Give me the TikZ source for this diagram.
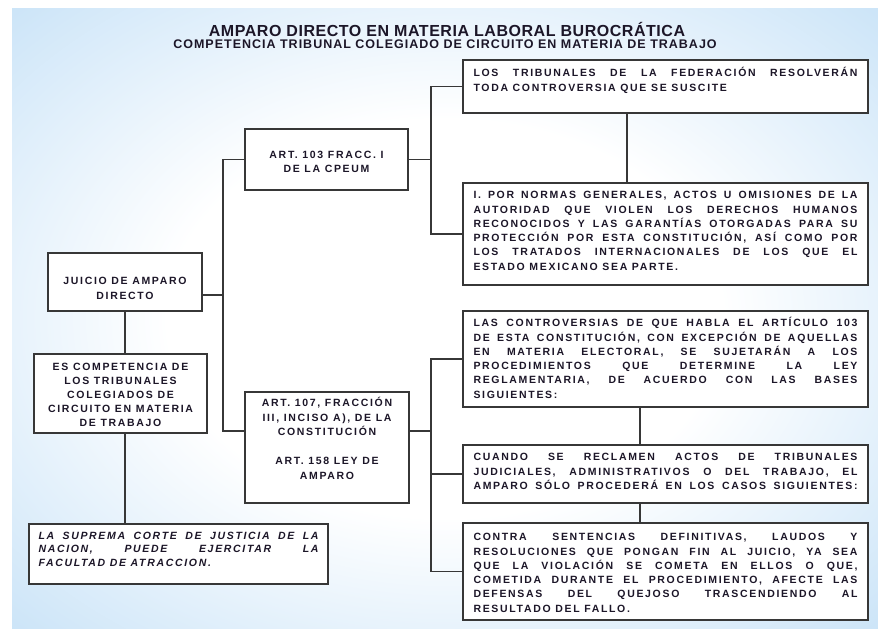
\documentclass[tikz,border=0pt]{standalone}
\usepackage{fontspec}
\setmainfont{Liberation Sans}
\newfontfamily\bxf[LetterSpace=16]{Liberation Sans}
\newfontfamily\ttlf[LetterSpace=3.4]{Liberation Sans}
\newfontfamily\ttlg[LetterSpace=8]{Liberation Sans}
\definecolor{bgblue}{RGB}{176,214,244}
\definecolor{ink}{RGB}{28,22,40}
\definecolor{edge}{RGB}{55,55,55}
\pgfdeclareradialshading{bgshade}{\pgfpoint{0bp}{0bp}}{color(0bp)=(white); color(16bp)=(white); color(46bp)=(bgblue); color(100bp)=(bgblue)}
\newcommand\jl[1]{\hbox to\hsize{\strut #1}}
\newcommand\lastl[1]{\hbox{\strut #1}}
\newcommand\pbx[4]{\parbox[c][#2][t]{#1}{\vspace*{#3}#4}}
\newcommand\bxfont[1]{\bxf\bfseries\fontsize{10.5}{#1}\selectfont\spaceskip=4.6pt plus 40pt minus 1pt\relax}
\begin{document}
\begin{tikzpicture}[x=1pt,y=-1pt,
  box/.style={draw=edge, line width=1.6pt, fill=white, inner xsep=10.5pt, inner ysep=0pt, outer sep=0pt, anchor=north west, text=ink,
    font=\bxfont{14.3}},
  cbox/.style={box, inner sep=0pt},
  conn/.style={draw=edge, line width=1.8pt},
  ttl/.style={text=ink, inner sep=0pt}]
\useasboundingbox (0,0) rectangle (878,629);
\fill[white] (0,0) rectangle (878,629);
\shade[shading=bgshade] (12,8) rectangle (878,629);

% titles
\node[ttl, font=\ttlf\bfseries\fontsize{16}{19}\selectfont] (t1) at (447,29) {AMPARO DIRECTO EN MATERIA LABORAL BUROCRÁTICA};
\node[ttl, font=\ttlg\bfseries\fontsize{12.5}{15}\selectfont] (t2) at (445,44) {COMPETENCIA TRIBUNAL COLEGIADO DE CIRCUITO EN MATERIA DE TRABAJO};

% left column
\node[cbox, font=\bxfont{15}] (juicio) at (48,253) {\pbx{154pt}{58pt}{20.7pt}{\centering\strut JUICIO DE AMPARO\\DIRECTO\par}};
\node[cbox, font=\bxfont{14}] (comp) at (34,354) {\pbx{173pt}{79pt}{6.7pt}{\centering\strut ES COMPETENCIA DE\\LOS TRIBUNALES\\COLEGIADOS DE\\CIRCUITO EN MATERIA\\DE TRABAJO\par}};
\node[box, inner xsep=9.5pt, font=\bxfont{13.5}\itshape] (scjn) at (29,524) {\pbx{280pt}{60pt}{5.7pt}{%
  \jl{LA SUPREMA CORTE DE JUSTICIA DE LA}
  \jl{NACION, PUEDE EJERCITAR LA}
  \lastl{FACULTAD DE ATRACCION.}}};

% middle column
\node[cbox, font=\bxfont{14}] (a103) at (245,129) {\pbx{163pt}{61pt}{19.7pt}{\centering\strut ART. 103 FRACC. I\\DE LA CPEUM\par}};
\node[cbox, font=\bxfont{14.5}] (a107) at (245,392) {\pbx{164pt}{111pt}{4.8pt}{\centering\strut ART. 107, FRACCIÓN\\III, INCISO A), DE LA\\CONSTITUCIÓN\\[14.5pt]ART. 158 LEY DE\\AMPARO\par}};

% right column
\node[box] (b1) at (463,60) {\pbx{384pt}{53pt}{6.7pt}{%
  \jl{LOS TRIBUNALES DE LA FEDERACIÓN RESOLVERÁN}
  \lastl{TODA CONTROVERSIA QUE SE SUSCITE}}};
\node[box] (b2) at (463,183) {\pbx{384pt}{102pt}{5.7pt}{%
  \jl{I. POR NORMAS GENERALES, ACTOS U OMISIONES DE LA}
  \jl{AUTORIDAD QUE VIOLEN LOS DERECHOS HUMANOS}
  \jl{RECONOCIDOS Y LAS GARANTÍAS OTORGADAS PARA SU}
  \jl{PROTECCIÓN POR ESTA CONSTITUCIÓN, ASÍ COMO POR}
  \jl{LOS TRATADOS INTERNACIONALES DE LOS QUE EL}
  \lastl{ESTADO MEXICANO SEA PARTE.}}};
\node[box] (b3) at (463,311) {\pbx{384pt}{96pt}{5.7pt}{%
  \jl{LAS CONTROVERSIAS DE QUE HABLA EL ARTÍCULO 103}
  \jl{DE ESTA CONSTITUCIÓN, CON EXCEPCIÓN DE AQUELLAS}
  \jl{EN MATERIA ELECTORAL, SE SUJETARÁN A LOS}
  \jl{PROCEDIMIENTOS QUE DETERMINE LA LEY}
  \jl{REGLAMENTARIA, DE ACUERDO CON LAS BASES}
  \lastl{SIGUIENTES:}}};
\node[box] (b4) at (463,445) {\pbx{384pt}{58pt}{5.7pt}{%
  \jl{CUANDO SE RECLAMEN ACTOS DE TRIBUNALES}
  \jl{JUDICIALES, ADMINISTRATIVOS O DEL TRABAJO, EL}
  \jl{AMPARO SÓLO PROCEDERÁ EN LOS CASOS SIGUIENTES:}}};
\node[box] (b5) at (463,523) {\pbx{384pt}{97pt}{7.7pt}{%
  \jl{CONTRA SENTENCIAS DEFINITIVAS, LAUDOS Y}
  \jl{RESOLUCIONES QUE PONGAN FIN AL JUICIO, YA SEA}
  \jl{QUE LA VIOLACIÓN SE COMETA EN ELLOS O QUE,}
  \jl{COMETIDA DURANTE EL PROCEDIMIENTO, AFECTE LAS}
  \jl{DEFENSAS DEL QUEJOSO TRASCENDIENDO AL}
  \lastl{RESULTADO DEL FALLO.}}};

% junction coordinates
\coordinate (jL) at (223,295);
\coordinate (jA) at (0,431);
\coordinate (jR1) at (431,160);
\coordinate (jR2) at (431,431);
\coordinate (xA) at (627,0);
\coordinate (xB) at (640,0);
\coordinate (xC) at (125,0);

% connectors
\draw[conn] (a103.west) -- (a103.west -| jL) -- (jA -| jL) -- (jA -| a107.west);
\draw[conn] (juicio.east |- jL) -- (jL);
\draw[conn] (juicio.south -| xC) -- (comp.north -| xC);
\draw[conn] (comp.south -| xC) -- (scjn.north -| xC);
\draw[conn] (a103.east) -- (a103.east -| jR1);
\draw[conn] (b1.west) -- (b1.west -| jR1) -- (b2.west -| jR1) -- (b2.west);
\draw[conn] (b1.south -| xA) -- (b2.north -| xA);
\draw[conn] (jA -| a107.east) -- (jR2);
\draw[conn] (b3.west) -- (b3.west -| jR2) -- (b5.west -| jR2) -- (b5.west);
\draw[conn] (b4.west -| jR2) -- (b4.west);
\draw[conn] (b3.south -| xB) -- (b4.north -| xB);
\draw[conn] (b4.south -| xB) -- (b5.north -| xB);
\end{tikzpicture}
\end{document}
